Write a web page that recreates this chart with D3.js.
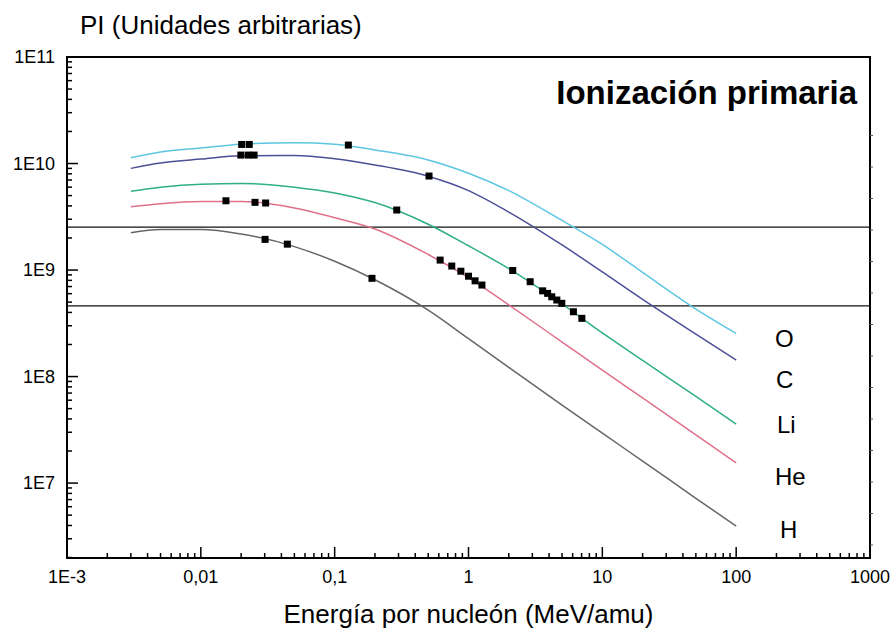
<!DOCTYPE html>
<meta charset="utf-8">
<script src="https://d3js.org/d3.v7.min.js"></script>
<style>
    body {
        margin: 0;
        background: #fff;
        font-family: "Liberation Sans", Arial, sans-serif;
    }
    .curve {
        fill: none;
        stroke-width: 1.5;
    }
</style>
<div id="viz_area"></div>
<script>
    // energia por nucleon (MeV/amu) donde se leyeron las curvas
    var energy = [0.003, 0.005, 0.01, 0.02, 0.05, 0.1, 0.2, 0.5, 1, 2, 5, 10, 20, 50, 100]
    var piO = [1.13e10, 1.28e10, 1.40e10, 1.52e10, 1.57e10, 1.52e10, 1.34e10, 1.08e10, 8.1e9, 5.57e9, 2.92e9, 1.74e9, 9.5e8, 4.3e8, 2.54e8]
    var piC = [9.0e9, 1.01e10, 1.10e10, 1.18e10, 1.19e10, 1.11e10, 9.7e9, 7.6e9, 5.57e9, 3.5e9, 1.72e9, 9.6e8, 5.3e8, 2.5e8, 1.43e8]
    var piLi = [5.5e9, 6.0e9, 6.4e9, 6.5e9, 6.0e9, 5.3e9, 4.3e9, 2.69e9, 1.69e9, 1.03e9, 4.8e8, 2.57e8, 1.42e8, 6.5e7, 3.58e7]
    var piHe = [3.93e9, 4.2e9, 4.4e9, 4.4e9, 3.83e9, 3.1e9, 2.43e9, 1.40e9, 8.5e8, 4.7e8, 2.11e8, 1.15e8, 6.3e7, 2.84e7, 1.55e7]
    var piH = [2.24e9, 2.40e9, 2.40e9, 2.18e9, 1.66e9, 1.21e9, 8.1e8, 4.2e8, 2.27e8, 1.22e8, 5.4e7, 2.94e7, 1.61e7, 7.2e6, 3.95e6]

    // puntos experimentales
    var markO_E = [0.0202, 0.0230, 0.1266]
    var markO_V = [1.51e10, 1.51e10, 1.49e10]
    var markC_E = [0.0199, 0.0226, 0.0250, 0.507]
    var markC_V = [1.20e10, 1.20e10, 1.20e10, 7.63e9]
    var markLi_E = [0.291, 2.14, 2.89, 3.58, 3.90, 4.19, 4.57, 4.98, 6.08, 7.03]
    var markLi_V = [3.66e9, 9.9e8, 7.77e8, 6.38e8, 6.04e8, 5.61e8, 5.23e8, 4.87e8, 4.06e8, 3.52e8]
    var markHe_E = [0.0154, 0.0254, 0.0305, 0.614, 0.750, 0.877, 1.00, 1.12, 1.26]
    var markHe_V = [4.47e9, 4.32e9, 4.26e9, 1.24e9, 1.09e9, 9.75e8, 8.75e8, 7.92e8, 7.23e8]
    var markH_E = [0.0302, 0.0443, 0.190]
    var markH_V = [1.94e9, 1.75e9, 8.36e8]

    var refLines = [2.53e9, 4.6e8]

    var ionNames = ["O", "C", "Li", "He", "H"]
    var xTickValues = [1e-3, 1e-2, 1e-1, 1, 10, 100, 1000]
    var xTickLabels = ["1E-3", "0,01", "0,1", "1", "10", "100", "1000"]
    var yTickValues = [1e7, 1e8, 1e9, 1e10, 1e11]
    var yTickLabels = ["1E7", "1E8", "1E9", "1E10", "1E11"]

    var series = [
        { name: "O", values: piO, mE: markO_E, mV: markO_V, color: "#5cc6e2" },
        { name: "C", values: piC, mE: markC_E, mV: markC_V, color: "#4d4f96" },
        { name: "Li", values: piLi, mE: markLi_E, mV: markLi_V, color: "#2fae88" },
        { name: "He", values: piHe, mE: markHe_E, mV: markHe_V, color: "#e0708a" },
        { name: "H", values: piH, mE: markH_E, mV: markH_V, color: "#666666" }
    ]

    var margin = { left: 67, top: 57, right: 26, bottom: 75 }
    var W = 896, H = 633
    var w = W - margin.left - margin.right
    var h = H - margin.top - margin.bottom

    var svg = d3.select("#viz_area").append("svg")
        .attr("width", W)
        .attr("height", H)
    var g = svg.append("g")
        .attr("transform", "translate(" + margin.left + "," + margin.top + ")")

    var x = d3.scaleLog().domain([1e-3, 1000]).range([0, w])
    var y = d3.scaleLog().domain([1.98e6, 1e11]).range([h, 0])

    // lineas horizontales de referencia
    g.selectAll(".ref")
        .data(refLines)
        .enter().append("line")
        .attr("x1", 0)
        .attr("x2", w)
        .attr("y1", function(d) { return y(d) })
        .attr("y2", function(d) { return y(d) })
        .attr("stroke", "#111")
        .attr("stroke-width", 1.3)

    var line = d3.line()
        .x(function(d) { return x(d[0]) })
        .y(function(d) { return y(d[1]) })
        .curve(d3.curveMonotoneX)

    series.forEach(function(s) {
        g.append("path")
            .attr("class", "curve")
            .attr("stroke", s.color)
            .attr("d", line(energy.map(function(e, i) { return [e, s.values[i]] })))
    })

    series.forEach(function(s) {
        g.selectAll(".mk-" + s.name)
            .data(s.mE.map(function(e, i) { return [e, s.mV[i]] }))
            .enter().append("rect")
            .attr("x", function(d) { return x(d[0]) - 3.5 })
            .attr("y", function(d) { return y(d[1]) - 3.5 })
            .attr("width", 7)
            .attr("height", 7)
            .attr("fill", "#000")
    })

    // ejes: marco
    g.append("rect")
        .attr("width", w)
        .attr("height", h)
        .attr("fill", "none")
        .attr("stroke", "#000")
        .attr("stroke-width", 2)

    // ticks eje x (hacia dentro)
    var xMinor = []
    for (var p = -3; p < 3; p++) {
        for (var k = 2; k <= 9; k++) xMinor.push(k * Math.pow(10, p))
    }
    g.selectAll(".xminor")
        .data(xMinor)
        .enter().append("line")
        .attr("x1", function(d) { return x(d) })
        .attr("x2", function(d) { return x(d) })
        .attr("y1", h)
        .attr("y2", h - 5)
        .attr("stroke", "#000")
        .attr("stroke-width", 1.5)
    g.selectAll(".xmajor")
        .data(xTickValues)
        .enter().append("line")
        .attr("x1", function(d) { return x(d) })
        .attr("x2", function(d) { return x(d) })
        .attr("y1", h)
        .attr("y2", h - 11)
        .attr("stroke", "#000")
        .attr("stroke-width", 1.5)
    g.selectAll(".xlab")
        .data(xTickValues)
        .enter().append("text")
        .attr("x", function(d) { return x(d) })
        .attr("y", h + 25)
        .attr("text-anchor", "middle")
        .attr("font-size", "18px")
        .text(function(d, i) { return xTickLabels[i] })

    // ticks eje y
    var yMinor = []
    for (var q = 6; q < 11; q++) {
        for (var m = 2; m <= 9; m++) {
            var v = m * Math.pow(10, q)
            if (v >= y.domain()[0]) yMinor.push(v)
        }
    }
    g.selectAll(".yminor")
        .data(yMinor)
        .enter().append("line")
        .attr("x1", 0)
        .attr("x2", 5)
        .attr("y1", function(d) { return y(d) })
        .attr("y2", function(d) { return y(d) })
        .attr("stroke", "#000")
        .attr("stroke-width", 1.5)
    g.selectAll(".ymajor")
        .data(yTickValues)
        .enter().append("line")
        .attr("x1", 0)
        .attr("x2", 11)
        .attr("y1", function(d) { return y(d) })
        .attr("y2", function(d) { return y(d) })
        .attr("stroke", "#000")
        .attr("stroke-width", 1.5)
    g.selectAll(".ylab")
        .data(yTickValues)
        .enter().append("text")
        .attr("x", -12)
        .attr("y", function(d) { return y(d) })
        .attr("dy", "0.35em")
        .attr("text-anchor", "end")
        .attr("font-size", "18px")
        .text(function(d, i) { return yTickLabels[i] })

    // pequeños ticks del eje derecho
    g.selectAll(".rtick")
        .data(d3.range(0, 14))
        .enter().append("line")
        .attr("x1", w)
        .attr("x2", w + 3)
        .attr("y1", function(d) { return h - 13 - 31.5 * d })
        .attr("y2", function(d) { return h - 13 - 31.5 * d })
        .attr("stroke", "#555")
        .attr("stroke-width", 1)

    // nombres de los iones
    var labelPos = [[775, 347], [776, 388], [777, 433], [775, 485], [780, 538]]
    svg.selectAll(".ion")
        .data(ionNames)
        .enter().append("text")
        .attr("x", function(d, i) { return labelPos[i][0] })
        .attr("y", function(d, i) { return labelPos[i][1] })
        .attr("font-size", "24px")
        .text(function(d) { return d })

    // titulos
    svg.append("text")
        .attr("x", 80)
        .attr("y", 34)
        .attr("font-size", "26px")
        .text("PI (Unidades arbitrarias)")

    svg.append("text")
        .attr("x", 857)
        .attr("y", 104)
        .attr("text-anchor", "end")
        .attr("font-size", "33px")
        .attr("font-weight", "bold")
        .text("Ionización primaria")

    svg.append("text")
        .attr("x", margin.left + w / 2)
        .attr("y", 623)
        .attr("text-anchor", "middle")
        .attr("font-size", "26px")
        .text("Energía por nucleón (MeV/amu)")
</script>
